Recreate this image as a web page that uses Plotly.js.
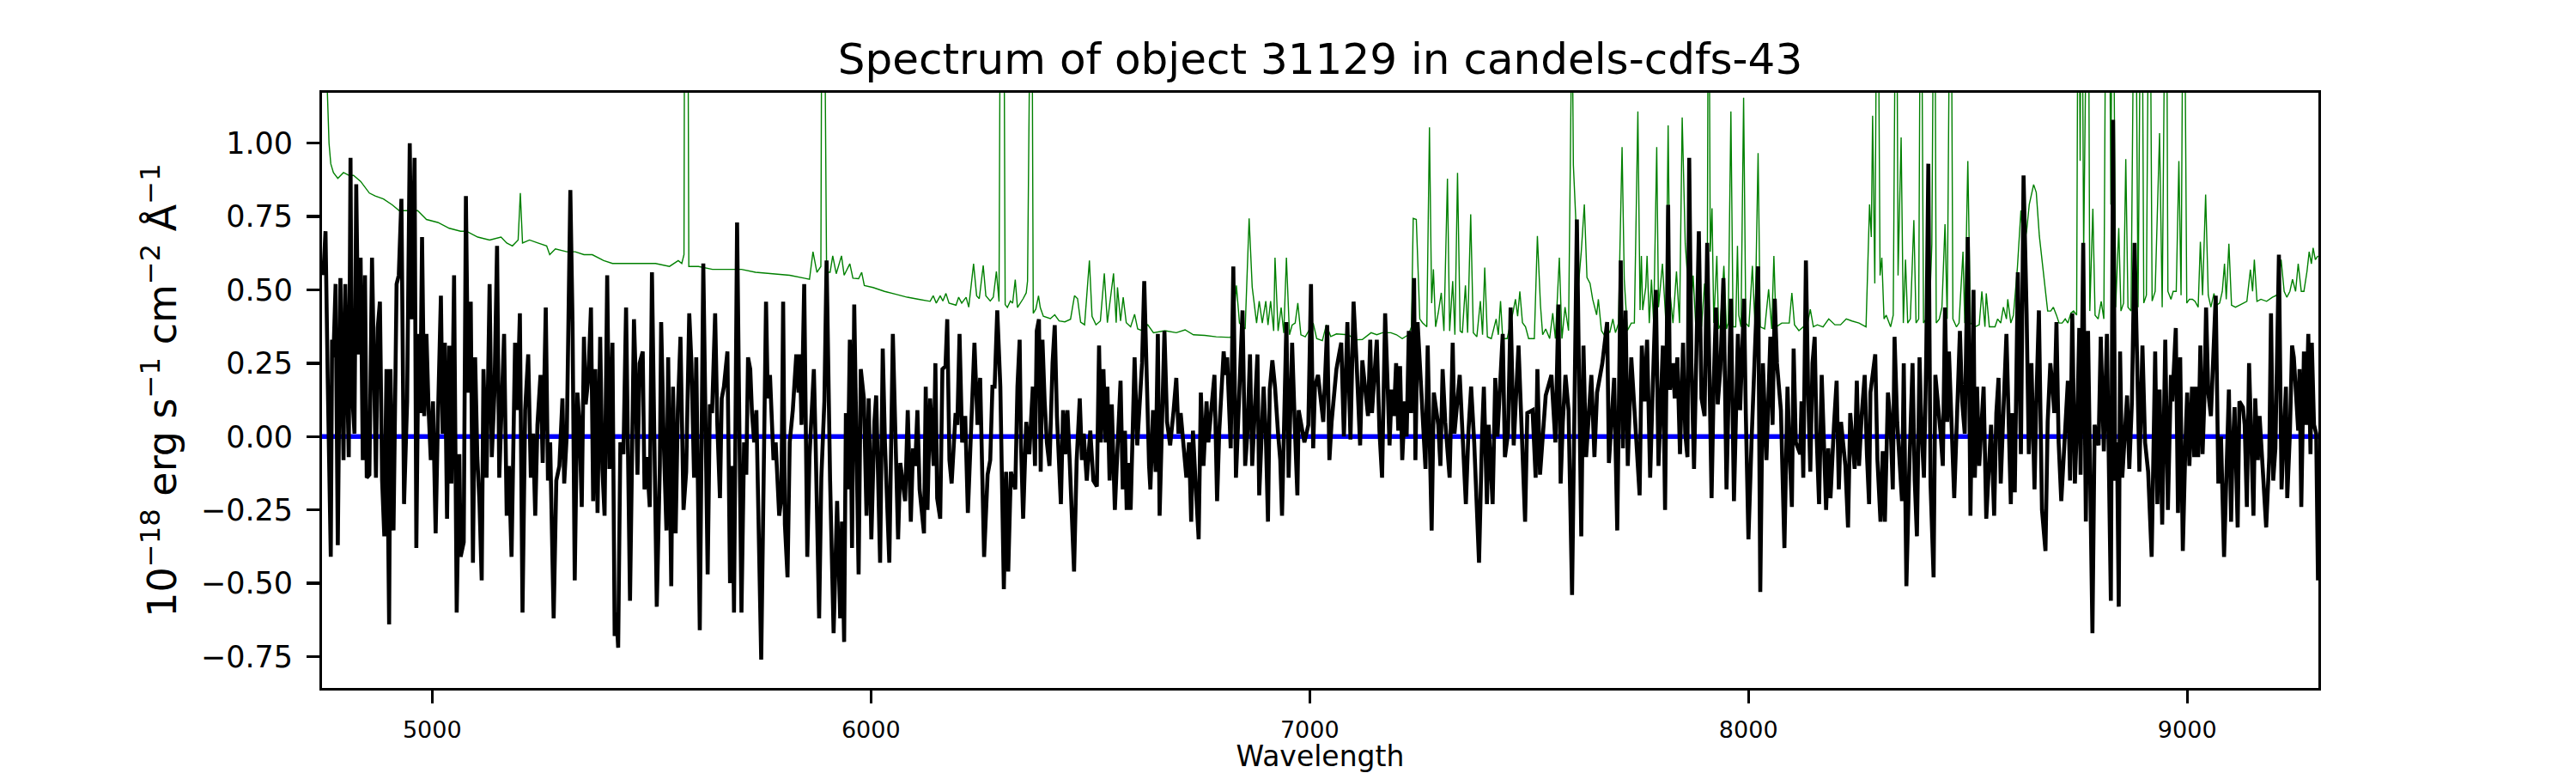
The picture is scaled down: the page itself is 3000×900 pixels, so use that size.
<!DOCTYPE html>
<html>
<head>
<meta charset="utf-8">
<script src="https://cdn.plot.ly/plotly-3.0.1.min.js"></script>
<style>html,body{margin:0;padding:0;background:#fff;}#chart{width:3000px;height:900px;}</style>
</head>
<body>
<div id="chart"></div>
<script>
// Spectrum flux (black): [wavelength, flux in 1e-18 erg/s/cm2/A]
const fluxPairs = [
[4752,0.55],[4757,0.70],[4762,0.20],[4769,-0.41],[4772,0.33],[4775,0.27],[4780,0.52],[4785,-0.37],[4791,0.54],[4798,-0.08],[4802,0.52],[4806,0.12],[4810,-0.07],[4814,0.95],[4817,0.17],[4823,0.01],[4827,0.86],[4832,0.28],[4837,0.61],[4842,-0.08],[4847,0.55],[4851,-0.14],[4857,-0.13],[4863,0.61],[4868,0.12],[4872,-0.14],[4876,0.37],[4881,0.46],[4886,-0.15],[4891,-0.34],[4896,0.23],[4902,-0.64],[4905,0.23],[4912,-0.32],[4919,0.52],[4924,0.55],[4930,0.81],[4936,-0.23],[4943,0.12],[4949,1.00],[4954,0.40],[4960,0.95],[4964,-0.38],[4969,0.35],[4973,0.08],[4977,0.68],[4982,0.07],[4987,0.35],[4992,0.09],[4997,-0.08],[5002,0.12],[5008,-0.33],[5013,0.05],[5020,0.48],[5024,0.01],[5029,0.32],[5034,-0.28],[5039,0.31],[5044,-0.16],[5050,0.55],[5056,-0.60],[5062,-0.06],[5065,-0.41],[5072,-0.36],[5077,0.82],[5082,0.15],[5088,0.46],[5093,-0.43],[5098,0.27],[5103,-0.07],[5108,-0.23],[5113,-0.49],[5117,0.23],[5124,-0.14],[5131,0.52],[5136,-0.07],[5142,0.15],[5148,0.65],[5153,-0.14],[5160,0.12],[5164,0.35],[5170,-0.27],[5175,-0.10],[5181,-0.41],[5189,0.32],[5194,0.09],[5200,0.42],[5206,-0.60],[5212,0.09],[5219,0.28],[5225,-0.14],[5230,0.01],[5235,-0.27],[5240,0.04],[5247,0.21],[5252,-0.09],[5259,0.44],[5264,-0.15],[5269,-0.02],[5277,-0.62],[5283,-0.15],[5290,-0.10],[5297,0.13],[5301,-0.16],[5307,0.01],[5315,0.84],[5320,0.39],[5325,-0.49],[5331,0.15],[5336,0.04],[5341,-0.24],[5346,0.34],[5350,0.11],[5356,0.20],[5362,0.44],[5367,-0.22],[5372,0.23],[5377,-0.26],[5383,0.34],[5388,-0.11],[5393,-0.27],[5399,0.55],[5404,-0.11],[5411,0.32],[5416,-0.68],[5420,-0.60],[5424,-0.72],[5429,-0.02],[5436,-0.06],[5442,0.44],[5447,-0.06],[5451,-0.56],[5460,0.40],[5463,0.25],[5468,-0.13],[5473,0.25],[5480,0.29],[5484,-0.18],[5489,-0.07],[5496,-0.24],[5501,0.56],[5506,-0.02],[5512,-0.58],[5519,-0.10],[5522,0.39],[5528,-0.02],[5534,-0.32],[5538,0.27],
[5545,-0.51],[5549,0.17],[5555,-0.33],[5560,0.09],[5566,0.34],[5573,-0.25],[5579,-0.12],[5586,0.42],[5591,0.25],[5597,-0.14],[5602,0.27],[5610,-0.66],[5618,0.59],[5628,-0.47],[5633,0.11],[5638,0.08],[5645,0.42],[5650,0.04],[5656,-0.21],[5660,0.13],[5665,0.17],[5673,0.29],[5679,-0.50],[5684,-0.10],[5688,-0.60],[5695,0.73],[5701,-0.12],[5705,-0.60],[5711,-0.02],[5716,-0.13],[5720,0.27],[5725,0.23],[5729,0.08],[5734,-0.02],[5739,0.09],[5750,-0.76],[5761,0.46],[5765,0.13],[5770,0.21],[5778,-0.08],[5783,-0.02],[5791,-0.27],[5796,-0.21],[5800,0.46],[5804,-0.30],[5810,-0.48],[5815,-0.02],[5822,0.09],[5830,0.28],[5835,0.15],[5838,0.28],[5842,0.04],[5848,0.52],[5855,-0.41],[5860,-0.07],[5870,0.23],[5874,-0.02],[5882,-0.62],[5887,-0.14],[5894,0.12],[5899,0.60],[5907,-0.15],[5915,-0.67],[5923,-0.22],[5930,-0.62],[5934,-0.29],[5939,-0.70],[5943,0.08],[5947,-0.18],[5952,0.33],[5957,-0.38],[5962,0.45],[5972,-0.47],[5977,0.23],[5984,0.13],[5990,-0.27],[5995,0.13],[6001,-0.35],[6008,0.05],[6012,0.14],[6021,-0.43],[6027,0.30],[6032,-0.02],[6042,-0.43],[6050,0.35],[6056,0.01],[6062,-0.35],[6067,-0.09],[6073,-0.16],[6078,-0.22],[6084,0.09],[6091,-0.29],[6096,-0.04],[6101,-0.10],[6106,0.09],[6111,-0.18],[6121,-0.33],[6125,0.17],[6129,-0.25],[6135,0.13],[6143,-0.10],[6147,0.25],[6151,-0.21],[6158,-0.28],[6163,0.23],[6170,0.24],[6174,0.40],[6179,-0.08],[6184,-0.16],[6193,0.08],[6197,0.04],[6202,0.35],[6208,-0.02],[6215,0.07],[6221,-0.26],[6230,0.05],[6236,0.32],[6243,0.04],[6249,0.20],[6258,-0.41],[6266,-0.13],[6272,-0.08],[6277,0.17],[6282,0.17],[6288,0.43],[6295,0.17],[6303,-0.52],[6308,-0.12],[6313,-0.46],
[6319,-0.12],[6329,-0.18],[6334,0.17],[6339,0.33],[6342,-0.02],[6347,-0.28],[6354,0.05],[6361,-0.06],[6369,0.17],[6374,-0.10],[6378,0.36],[6383,0.40],[6387,-0.12],[6391,0.33],[6396,0.12],[6401,-0.02],[6407,-0.10],[6414,0.25],[6419,0.38],[6424,0.07],[6433,-0.23],[6438,0.09],[6443,-0.06],[6448,0.09],[6453,-0.08],[6463,-0.46],[6469,-0.08],[6476,0.13],[6481,-0.08],[6485,0.01],[6492,-0.15],[6500,0.02],[6507,-0.15],[6515,-0.17],[6520,0.31],[6524,-0.02],[6530,0.23],[6535,-0.02],[6539,0.17],[6544,-0.15],[6549,0.11],[6556,-0.25],[6560,-0.11],[6569,0.19],[6574,-0.18],[6579,0.02],[6583,-0.25],[6587,-0.09],[6592,-0.25],[6596,0.04],[6601,0.27],[6607,-0.03],[6618,0.25],[6623,0.53],[6628,0.19],[6634,-0.10],[6637,-0.18],[6643,0.09],[6649,-0.12],[6654,0.35],[6658,-0.27],[6669,0.36],[6675,0.05],[6682,-0.03],[6690,0.09],[6696,0.20],[6701,0.01],[6706,0.08],[6719,-0.14],[6725,-0.02],[6730,-0.29],[6734,0.02],[6740,-0.16],[6747,-0.35],[6752,0.15],[6758,-0.10],[6765,0.12],[6769,-0.02],[6783,0.21],[6789,-0.22],[6794,0.02],[6804,0.29],[6808,0.21],[6812,0.27],[6820,-0.04],[6826,0.58],[6832,-0.14],[6836,0.01],[6847,0.43],[6853,-0.10],[6858,0.01],[6864,0.28],[6869,-0.10],[6881,0.28],[6885,-0.20],[6895,0.17],[6900,0.01],[6905,-0.29],[6909,0.16],[6915,0.26],[6921,0.17],[6928,0.01],[6933,-0.08],[6937,-0.27],[6943,0.15],[6947,0.39],[6952,-0.14],[6960,0.32],[6967,0.00],[6972,-0.20],[6975,0.09],[6988,-0.02],[6997,0.04],[7003,0.52],[7008,-0.04],[7012,0.17],[7019,0.21],[7031,0.05],[7040,0.38],[7045,-0.08],[7050,0.05],[7061,0.23],[7067,0.28],[7072,0.32],[7078,0.00],[7086,0.39],[7093,-0.01],[7100,0.46],
[7107,0.25],[7115,-0.03],[7120,0.26],[7128,0.13],[7133,0.07],[7138,0.33],[7142,0.08],[7153,0.33],[7159,0.02],[7165,-0.14],[7172,0.42],[7178,0.16],[7182,-0.03],[7187,0.16],[7192,0.07],[7197,0.25],[7202,0.02],[7206,0.24],[7211,-0.08],[7217,0.12],[7221,0.00],[7226,0.36],[7231,0.08],[7238,0.54],[7241,-0.08],[7246,0.39],[7257,0.08],[7264,-0.11],[7269,0.31],[7278,-0.32],[7283,0.15],[7293,0.04],[7298,-0.10],[7303,0.23],[7309,0.05],[7319,-0.14],[7326,0.32],[7330,0.01],[7342,0.21],[7348,0.00],[7356,-0.23],[7362,0.02],[7368,0.17],[7375,-0.02],[7386,-0.43],[7393,0.01],[7397,0.17],[7404,-0.23],[7408,0.04],[7417,-0.23],[7423,0.20],[7428,0.00],[7440,0.35],[7445,-0.07],[7452,0.01],[7458,0.44],[7465,-0.03],[7476,0.31],[7482,0.05],[7491,-0.29],[7496,0.08],[7508,0.09],[7515,-0.14],[7519,0.23],[7525,-0.13],[7531,-0.02],[7538,0.14],[7551,0.21],[7560,-0.02],[7567,0.45],[7572,-0.16],[7577,0.05],[7583,0.21],[7590,0.09],[7598,-0.54],[7609,0.74],[7615,-0.02],[7619,-0.34],[7624,0.31],[7630,-0.07],[7642,0.21],[7649,-0.07],[7655,0.15],[7667,0.25],[7678,0.39],[7682,-0.09],[7694,0.20],[7701,-0.32],[7709,0.60],[7714,-0.04],[7720,0.43],[7725,-0.10],[7733,0.27],[7746,-0.02],[7752,-0.20],[7757,0.31],[7763,0.12],[7769,0.33],[7776,-0.14],[7782,0.17],[7789,0.50],[7795,-0.10],[7805,0.31],[7810,-0.25],[7817,0.79],[7821,0.16],[7828,0.25],[7832,0.13],[7838,0.27],[7844,-0.06],[7851,0.32],[7856,0.01],[7861,-0.07],[7865,0.95],[7870,0.25],[7876,-0.11],
[7880,0.17],[7887,0.70],[7893,0.13],[7900,0.07],[7906,0.66],[7911,0.12],[7916,-0.21],[7921,0.19],[7926,0.44],[7930,0.11],[7936,0.23],[7943,0.54],[7950,-0.18],[7955,0.16],[7960,0.47],[7967,-0.22],[7971,0.11],[7976,0.35],[7981,0.09],[7990,0.47],[7994,0.08],[8000,-0.35],[8007,-0.02],[8015,0.28],[8022,0.58],[8027,-0.53],[8033,0.25],[8041,-0.08],[8050,0.34],[8055,0.04],[8060,0.47],[8065,0.25],[8074,0.09],[8082,-0.38],[8089,0.17],[8093,-0.02],[8099,-0.24],[8103,0.30],[8108,-0.02],[8118,-0.06],[8121,0.12],[8125,-0.14],[8131,0.60],[8136,0.16],[8141,-0.12],[8146,0.25],[8151,0.34],[8155,0.02],[8161,-0.23],[8167,0.21],[8177,-0.25],[8182,-0.04],[8187,-0.21],[8195,0.04],[8201,0.19],[8206,-0.18],[8211,0.05],[8221,-0.10],[8227,-0.31],[8232,0.08],[8242,-0.11],[8247,0.19],[8252,-0.10],[8258,0.07],[8265,0.21],[8270,-0.06],[8275,-0.23],[8278,0.15],[8289,0.28],[8294,-0.08],[8301,-0.29],[8306,-0.05],[8311,-0.29],[8318,0.15],[8324,0.04],[8329,-0.18],[8333,0.34],[8339,0.05],[8350,-0.22],[8354,0.25],[8360,-0.51],[8366,-0.14],[8374,0.25],[8379,-0.15],[8384,-0.34],[8390,0.27],[8394,0.04],[8400,-0.14],[8405,0.25],[8410,0.93],[8415,-0.16],[8422,-0.48],[8426,0.21],[8438,0.01],[8443,-0.10],[8448,0.44],[8453,0.05],[8457,0.29],[8469,-0.21],[8482,0.36],[8487,0.12],[8493,0.01],[8500,0.68],[8506,-0.27],[8513,0.50],[8516,-0.14],[8521,0.17],[8526,-0.10],[8536,0.17],[8542,-0.28],[8549,-0.08],[8553,0.04],[8560,-0.27],[8565,0.08],[8570,0.20],[8575,-0.16],[8581,0.08],[8588,0.35],[8598,-0.23],[8601,0.08],[8607,-0.19],[8614,0.56],[8621,-0.06],[8627,0.89],[8634,0.42],[8639,-0.06],[8645,0.25],[8652,-0.18],[8656,0.11],[8662,0.43],
[8669,-0.25],[8677,-0.39],[8682,0.05],[8688,0.25],[8693,0.17],[8697,0.08],[8702,0.39],[8707,-0.02],[8713,-0.22],[8718,-0.08],[8723,0.02],[8728,0.19],[8733,-0.15],[8738,0.42],[8744,-0.16],[8750,0.09],[8754,0.37],[8757,-0.13],[8763,0.66],[8769,-0.29],[8774,0.36],[8778,-0.15],[8784,-0.67],[8789,0.04],[8798,-0.03],[8803,0.34],[8810,-0.05],[8817,0.35],[8821,-0.02],[8826,-0.56],[8831,1.08],[8836,-0.15],[8840,-0.02],[8844,-0.58],[8847,0.29],[8852,-0.14],[8863,0.14],[8868,-0.11],[8874,0.12],[8880,0.66],[8886,0.25],[8891,-0.12],[8898,0.31],[8904,-0.02],[8911,-0.12],[8919,-0.41],[8927,0.29],[8932,-0.23],[8937,0.16],[8943,-0.30],[8950,0.33],[8956,-0.25],[8963,0.21],[8966,0.12],[8974,0.37],[8979,-0.26],[8984,0.27],[8990,-0.39],[8996,-0.02],[9000,0.15],[9005,-0.10],[9011,0.17],[9016,-0.07],[9020,0.17],[9025,-0.07],[9030,0.31],[9035,-0.06],[9039,0.12],[9043,0.44],[9048,0.15],[9054,0.07],[9061,0.33],[9065,0.48],[9071,-0.16],[9077,0.00],[9084,-0.41],[9089,-0.15],[9095,0.16],[9100,-0.29],[9103,-0.07],[9108,0.10],[9115,-0.31],[9119,0.12],[9127,0.10],[9131,0.04],[9136,-0.24],[9141,0.25],[9146,-0.07],[9151,-0.27],[9155,0.13],[9161,-0.08],[9165,0.07],[9174,-0.18],[9180,-0.31],[9187,-0.07],[9191,0.42],[9196,-0.15],[9201,-0.04],[9209,0.62],[9215,-0.18],[9225,0.17],[9228,-0.21],[9234,0.01],[9239,0.31],[9243,0.27],[9253,0.02],[9256,0.23],[9260,-0.24],[9266,0.29],[9271,0.04],[9276,0.35],[9281,-0.06],[9284,0.32],[9289,0.04],[9294,0.01],[9298,-0.49]
];

// Noise / sky spectrum (green): [wavelength, value]
const noisePairs = [
[4752,1.6],[4762,1.17],[4765,1.0],[4769,0.93],[4775,0.90],[4785,0.88],[4798,0.90],[4811,0.89],[4821,0.89],[4837,0.87],[4857,0.83],[4870,0.82],[4889,0.81],[4909,0.79],[4925,0.77],[4954,0.77],[4967,0.77],[4987,0.74],[5013,0.73],[5039,0.71],[5065,0.70],[5078,0.70],[5104,0.68],[5131,0.67],[5157,0.68],[5170,0.66],[5183,0.65],[5196,0.67],[5201,0.83],[5206,0.66],[5222,0.67],[5241,0.66],[5261,0.65],[5268,0.62],[5281,0.64],[5307,0.63],[5326,0.63],[5346,0.62],[5365,0.62],[5391,0.60],[5411,0.59],[5457,0.59],[5509,0.59],[5541,0.58],
[5561,0.60],[5569,0.59],[5574,0.62],[5576,2.0],[5582,2.0],[5585,0.58],[5607,0.58],[5639,0.57],[5672,0.57],[5705,0.57],[5737,0.56],[5783,0.555],[5815,0.55],[5848,0.54],[5860,0.536],[5868,0.63],[5877,0.56],[5886,0.58],[5889,2.0],[5895,1.4],[5899,0.56],[5907,0.56],[5913,0.616],[5921,0.555],[5933,0.616],[5939,0.55],[5952,0.589],[5959,0.54],[5972,0.538],[5979,0.56],[5985,0.515],[6005,0.508],[6031,0.495],[6057,0.485],[6083,0.475],[6109,0.468],[6135,0.461],[6142,0.48],[6149,0.455],[6158,0.48],[6164,0.462],[6171,0.488],[6178,0.455],[6194,0.448],[6200,0.475],[6207,0.455],[6217,0.475],[6223,0.441],[6234,0.589],[6241,0.48],[6247,0.47],[6256,0.583],[6262,0.48],[6272,0.462],[6279,0.475],[6286,0.563],[6292,0.46],[6296,2.0],[6302,2.0],
[6306,0.45],[6311,0.44],[6318,0.462],[6323,0.455],[6329,0.535],[6334,0.44],[6347,0.47],[6354,0.49],[6357,0.53],[6361,2.0],[6366,2.0],[6370,0.42],[6376,0.435],[6382,0.48],[6386,0.44],[6393,0.41],[6409,0.402],[6419,0.415],[6429,0.394],[6442,0.391],[6455,0.40],[6464,0.48],[6471,0.47],[6478,0.39],[6487,0.381],[6498,0.60],[6504,0.41],[6513,0.381],[6523,0.394],[6532,0.556],[6539,0.388],[6553,0.556],[6559,0.388],[6562,0.509],[6569,0.394],[6575,0.475],[6582,0.388],[6592,0.374],[6601,0.417],[6608,0.367],[6618,0.361],[6631,0.381],[6644,0.354],[6670,0.361],[6696,0.354],[6716,0.364],[6735,0.347],[6761,0.345],[6787,0.340],[6820,0.338],[6826,0.387],[6833,0.515],[6840,0.387],[6853,0.367],[6862,0.744],[6869,0.51],[6879,0.387],[6885,0.462],[6892,0.387],[6900,0.462],[6905,0.38],[6911,0.462],[6918,0.36],[6921,0.61],[6928,0.36],[6935,0.44],[6941,0.353],[6947,0.61],[6954,0.347],[6960,0.38],[6967,0.387],[6973,0.455],[6980,0.347],[6990,0.340],[7008,0.387],[7016,0.334],[7029,0.327],[7038,0.381],[7048,0.341],[7061,0.350],[7087,0.347],[7107,0.33],
[7120,0.331],[7140,0.354],[7153,0.347],[7166,0.354],[7185,0.354],[7198,0.347],[7211,0.334],[7225,0.347],[7232,0.374],[7236,0.744],[7243,0.74],[7251,0.401],[7257,0.388],[7267,0.374],[7273,1.054],[7278,0.455],[7282,0.57],[7287,0.374],[7293,0.421],[7300,0.49],[7306,0.36],[7314,0.879],[7319,0.36],[7326,0.53],[7331,0.347],[7337,0.899],[7343,0.36],[7348,0.354],[7355,0.515],[7360,0.354],[7367,0.758],[7373,0.354],[7381,0.340],[7389,0.462],[7394,0.347],[7399,0.576],[7405,0.340],[7414,0.334],[7425,0.401],[7430,0.347],[7435,0.462],[7440,0.334],[7450,0.334],[7463,0.421],[7469,0.468],[7474,0.41],[7479,0.495],[7485,0.388],[7492,0.374],[7499,0.334],[7512,0.334],[7519,0.684],[7526,0.448],[7531,0.347],[7538,0.367],[7547,0.334],[7554,0.421],[7560,0.334],[7569,0.610],[7575,0.334],[7582,0.441],[7590,0.361],[7595,1.5],[7598,1.5],[7601,0.926],[7606,0.75],[7613,0.522],[7619,0.63],[7626,0.791],[7632,0.542],[7639,0.522],[7645,0.468],[7654,0.415],[7658,0.468],[7665,0.361],[7671,0.347],[7678,0.367],[7684,0.354],[7691,0.401],[7697,0.354],[7704,0.387],[7707,0.63],[7712,0.987],[7717,0.535],[7724,0.361],[7733,0.387],[7740,0.387],[7748,1.108],[7753,0.431],[7756,0.616],[7759,0.431],[7766,0.509],[7769,0.616],[7774,0.387],[7779,0.535],[7784,0.387],[7791,0.987],[7795,0.441],[7804,0.589],[7812,0.387],[7817,1.061],[7821,0.495],[7828,0.387],[7836,0.563],[7843,0.387],[7849,1.088],[7856,0.657],[7861,0.549],[7867,0.387],[7874,0.549],
[7880,0.374],[7887,0.387],[7893,0.374],[7900,0.522],[7906,0.374],[7909,2.0],[7913,0.630],[7917,0.778],[7921,0.387],[7928,0.616],[7932,0.367],[7936,0.381],[7944,0.582],[7950,0.367],[7954,0.387],[7960,1.108],[7965,0.374],[7971,0.374],[7975,0.65],[7978,0.414],[7983,0.374],[7989,1.155],[7994,0.387],[8001,0.374],[8009,0.582],[8015,0.374],[8022,0.966],[8027,0.374],[8037,0.367],[8046,0.502],[8053,0.367],[8058,0.616],[8063,0.374],[8076,0.387],[8086,0.387],[8093,0.387],[8099,0.49],[8105,0.381],[8115,0.361],[8125,0.374],[8135,0.387],[8141,0.434],[8148,0.374],[8157,0.381],[8170,0.374],[8183,0.401],[8197,0.381],[8210,0.381],[8223,0.401],[8236,0.394],[8252,0.387],[8268,0.374],[8276,0.791],[8280,0.68],[8283,1.094],[8288,0.522],[8294,2.0],[8300,0.549],[8304,0.610],[8309,0.401],[8314,0.414],[8324,0.374],[8330,0.414],[8337,2.0],[8341,0.549],[8348,1.02],[8353,0.387],[8358,0.603],[8363,0.387],[8369,0.401],[8377,0.738],[8382,0.387],[8388,0.401],[8393,2.0],[8399,0.387],[8405,0.401],[8412,0.401],[8418,0.656],[8424,2.0],[8428,0.387],[8435,0.401],[8441,0.441],[8448,0.724],[8453,0.401],[8461,2.0],[8466,0.401],[8474,0.374],[8480,0.387],[8489,0.630],[8493,0.387],[8500,0.939],[8506,0.387],[8516,0.374],[8526,0.381],[8532,0.495],[8539,0.374],[8542,0.488],[8549,0.374],[8562,0.374],[8568,0.401],[8575,0.387],[8581,0.441],[8588,0.401],[8591,0.468],[8598,0.387],[8604,0.414],[8613,0.576],[8621,0.771],[8627,0.65],[8634,0.70],[8640,0.791],[8650,0.859],[8656,0.832],[8663,0.684],[8669,0.603],
[8673,0.549],[8679,0.468],[8682,0.428],[8689,0.428],[8695,0.441],[8702,0.414],[8708,0.387],[8715,0.387],[8722,0.401],[8728,0.387],[8735,0.421],[8741,0.428],[8748,0.414],[8752,2.0],[8756,0.94],[8759,2.0],[8764,0.63],[8769,2.0],[8774,2.0],[8778,0.428],[8785,0.777],[8790,0.414],[8797,0.401],[8804,0.461],[8810,0.401],[8816,2.0],[8821,2.0],[8826,0.791],[8830,2.0],[8837,0.441],[8844,0.711],[8849,0.428],[8855,0.455],[8860,0.946],[8865,0.441],[8872,0.428],[8877,2.0],[8881,2.0],[8888,0.441],[8896,2.0],[8901,0.455],[8907,0.482],[8914,2.0],[8920,0.462],[8927,0.495],[8937,1.034],[8943,0.441],[8952,2.0],[8956,0.495],[8963,0.468],[8968,0.495],[8975,0.495],[8981,0.939],[8986,0.482],[8992,2.0],[8999,0.455],[9005,0.468],[9012,0.468],[9018,0.461],[9025,0.441],[9030,0.664],[9035,0.482],[9042,0.825],[9048,0.482],[9054,0.441],[9061,0.488],[9067,0.448],[9074,0.455],[9080,0.495],[9085,0.589],[9089,0.468],[9095,0.657],[9101,0.448],[9110,0.441],[9119,0.448],[9129,0.455],[9136,0.461],[9144,0.569],[9149,0.495],[9153,0.603],[9159,0.461],[9168,0.468],[9181,0.461],[9194,0.475],[9204,0.482],[9214,0.603],[9221,0.495],[9227,0.475],[9234,0.495],[9240,0.536],[9247,0.495],[9253,0.589],[9260,0.495],[9266,0.495],[9273,0.563],[9278,0.630],[9283,0.589],[9287,0.643],[9292,0.603],[9298,0.616]
];

// Zero reference line
const zeroWave = [4749, 9299];
const zeroFlux = [0, 0];

// Axis settings
const xRange = [4749, 9299];
const yRange = [-0.857, 1.172];
const yTickVals = [-0.75, -0.5, -0.25, 0, 0.25, 0.5, 0.75, 1.0];
const xTickVals = [5000, 6000, 7000, 8000, 9000];

const titleText = "Spectrum of object 31129 in candels-cdfs-43";
const xTitle = "Wavelength";
const yTitle = "10<sup>\u221218</sup> erg s<sup>\u22121</sup> cm<sup>\u22122</sup> \u00C5<sup>\u22121</sup>";

const FONT = "DejaVu Sans, Verdana, sans-serif";

const traces = [
  {
    x: noisePairs.map(p => p[0]), y: noisePairs.map(p => p[1]),
    type: "scatter", mode: "lines", name: "noise",
    line: {color: "#008000", width: 1.4}, hoverinfo: "skip"
  },
  {
    x: zeroWave, y: zeroFlux,
    type: "scatter", mode: "lines", name: "zero",
    line: {color: "#0000ff", width: 5.5}, hoverinfo: "skip"
  },
  {
    x: fluxPairs.map(p => p[0]), y: fluxPairs.map(p => p[1]),
    type: "scatter", mode: "lines", name: "flux",
    line: {color: "#000000", width: 4.6}, hoverinfo: "skip"
  }
];

const layout = {
  width: 3000, height: 900,
  margin: {l: 375, r: 300, t: 108, b: 99, pad: 0},
  paper_bgcolor: "#ffffff", plot_bgcolor: "#ffffff",
  showlegend: false,
  font: {family: FONT, color: "#000000", size: 30},
  title: {
    text: titleText,
    font: {family: FONT, size: 50, color: "#000000"},
    x: 0.5, xref: "paper", xanchor: "center",
    y: 1 - 86/900, yref: "container", yanchor: "bottom"
  },
  xaxis: {
    range: xRange, autorange: false,
    tickmode: "array", tickvals: xTickVals, ticktext: xTickVals.map(String),
    ticks: "outside", ticklen: 14.6, tickwidth: 3.3, tickcolor: "#000000",
    tickfont: {family: FONT, size: 27, color: "#000000"},
    ticklabelstandoff: 8,
    showline: true, linecolor: "#000000", linewidth: 3.3, mirror: true,
    showgrid: false, zeroline: false,
    title: {text: xTitle, font: {family: FONT, size: 33, color: "#000000"}, standoff: 12},
    automargin: false
  },
  yaxis: {
    range: yRange, autorange: false,
    tickmode: "array", tickvals: yTickVals, ticktext: yTickVals.map(v => (v < 0 ? "\u2212" : "") + Math.abs(v).toFixed(2)),
    ticks: "outside", ticklen: 14.6, tickwidth: 3.3, tickcolor: "#000000",
    tickfont: {family: FONT, size: 35, color: "#000000"},
    ticklabelstandoff: 9,
    showline: true, linecolor: "#000000", linewidth: 3.3, mirror: true,
    showgrid: false, zeroline: false,
    title: {text: yTitle, font: {family: FONT, size: 46, color: "#000000"}, standoff: 14},
    automargin: false
  }
};

Plotly.newPlot("chart", traces, layout, {displayModeBar: false, staticPlot: true});
</script>
</body>
</html>
